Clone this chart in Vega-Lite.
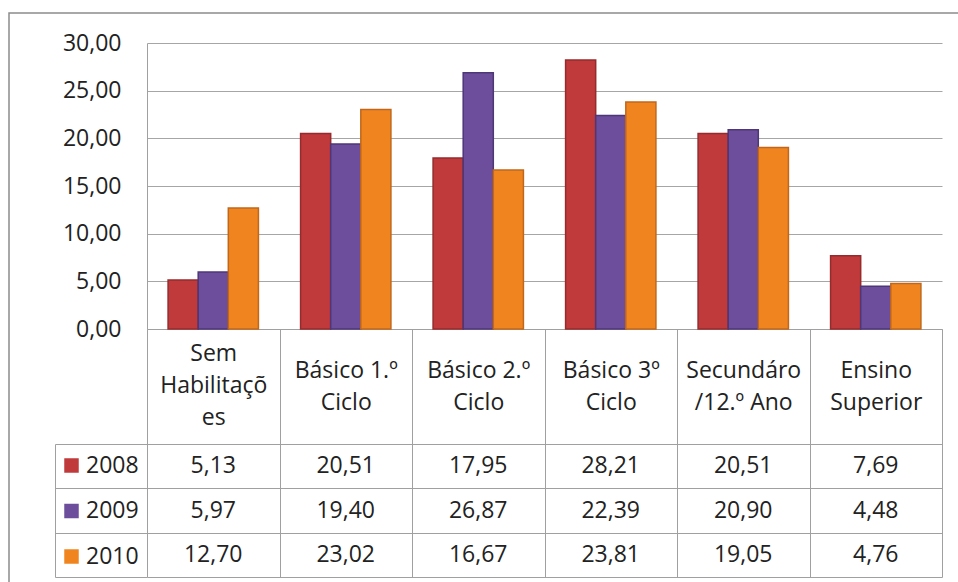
{
  "$schema": "https://vega.github.io/schema/vega-lite/v6.json",
  "width": 960,
  "height": 580,
  "autosize": {"type": "none"},
  "padding": {"left": 9, "top": 13, "right": 0, "bottom": 0},
  "background": "white",
  "config": {
    "font": "Open Sans",
    "locale": {"number": {"decimal": ",", "thousands": ".", "grouping": [3], "currency": ["€", ""]}},
    "view": {"stroke": "#8c8c8c", "strokeWidth": 1.5},
    "axis": {"labelFont": "Open Sans", "labelFontSize": 23, "labelColor": "#222222", "title": null}
  },
  "data": {
    "values": [
      {"cat": "Sem\nHabilitaçõ\nes", "year": "2008", "value": 5.13},
      {"cat": "Sem\nHabilitaçõ\nes", "year": "2009", "value": 5.97},
      {"cat": "Sem\nHabilitaçõ\nes", "year": "2010", "value": 12.70},
      {"cat": "Básico 1.º\nCiclo", "year": "2008", "value": 20.51},
      {"cat": "Básico 1.º\nCiclo", "year": "2009", "value": 19.40},
      {"cat": "Básico 1.º\nCiclo", "year": "2010", "value": 23.02},
      {"cat": "Básico 2.º\nCiclo", "year": "2008", "value": 17.95},
      {"cat": "Básico 2.º\nCiclo", "year": "2009", "value": 26.87},
      {"cat": "Básico 2.º\nCiclo", "year": "2010", "value": 16.67},
      {"cat": "Básico 3º\nCiclo", "year": "2008", "value": 28.21},
      {"cat": "Básico 3º\nCiclo", "year": "2009", "value": 22.39},
      {"cat": "Básico 3º\nCiclo", "year": "2010", "value": 23.81},
      {"cat": "Secundáro\n/12.º Ano", "year": "2008", "value": 20.51},
      {"cat": "Secundáro\n/12.º Ano", "year": "2009", "value": 20.90},
      {"cat": "Secundáro\n/12.º Ano", "year": "2010", "value": 19.05},
      {"cat": "Ensino\nSuperior", "year": "2008", "value": 7.69},
      {"cat": "Ensino\nSuperior", "year": "2009", "value": 4.48},
      {"cat": "Ensino\nSuperior", "year": "2010", "value": 4.76}
    ]
  },
  "layer": [
    {
      "mark": {"type": "bar", "strokeWidth": 1.5},
      "encoding": {
        "x": {
          "field": "cat", "type": "nominal", "sort": null,
          "scale": {
            "domain": ["Sem\nHabilitaçõ\nes", "Básico 1.º\nCiclo", "Básico 2.º\nCiclo", "Básico 3º\nCiclo", "Secundáro\n/12.º Ano", "Ensino\nSuperior"],
            "range": [138, 933], "paddingInner": 0, "paddingOuter": 0
          },
          "axis": {
            "orient": "bottom", "offset": -264, "grid": false,
            "domainColor": "#a0a0a0", "tickColor": "#a0a0a0", "tickSize": 248, "tickBand": "extent",
            "labelPadding": {"condition": {"test": "indexof(datum.label, 'Sem') === 0", "value": -224}, "value": -207},
            "labelAngle": 0, "labelBaseline": "middle", "labelLineHeight": 32,
            "labelExpr": "split(datum.label, '\\n')", "labelOverlap": false, "labelLimit": 300
          }
        },
        "xOffset": {"field": "year", "type": "nominal", "scale": {"paddingInner": 0, "paddingOuter": 0.7}},
        "y": {
          "field": "value", "type": "quantitative",
          "scale": {"domain": [0, 30], "range": [316, 30], "nice": false},
          "axis": {
            "orient": "left", "offset": -138, "values": [0, 5, 10, 15, 20, 25, 30], "format": ".2f",
            "ticks": false, "labelPadding": 26, "domainColor": "#a0a0a0", "grid": true, "gridColor": "#a6a6a6"
          }
        },
        "color": {
          "field": "year", "type": "nominal",
          "scale": {"range": ["#c0393b", "#6c4e9c", "#f0851f"]},
          "legend": {
            "orient": "none", "legendX": 51, "legendY": 441, "title": null, "direction": "vertical",
            "symbolType": "square", "symbolSize": 210, "symbolStrokeWidth": 0,
            "labelFont": "Open Sans", "labelFontSize": 23, "labelColor": "#222222",
            "rowPadding": 21.5, "labelOffset": 3, "padding": 0
          }
        },
        "stroke": {
          "field": "year", "type": "nominal",
          "scale": {"range": ["#952b2c", "#4e3777", "#c0671c"]},
          "legend": null
        }
      }
    },
    {
      "mark": {"type": "text", "fontSize": 23, "color": "#222222", "font": "Open Sans"},
      "encoding": {
        "x": {"field": "cat", "type": "nominal", "sort": null},
        "y": {
          "field": "year", "type": "nominal",
          "scale": {"type": "band", "range": [431, 564], "paddingInner": 0, "paddingOuter": 0},
          "axis": {
            "orient": "left", "offset": -46, "labels": false,
            "domainColor": "#a0a0a0", "tickColor": "#a0a0a0", "tickSize": -92, "tickBand": "extent",
            "grid": true, "gridColor": "#a0a0a0"
          }
        },
        "text": {"field": "value", "type": "quantitative", "format": ".2f"}
      }
    }
  ],
  "resolve": {"scale": {"y": "independent"}}
}
